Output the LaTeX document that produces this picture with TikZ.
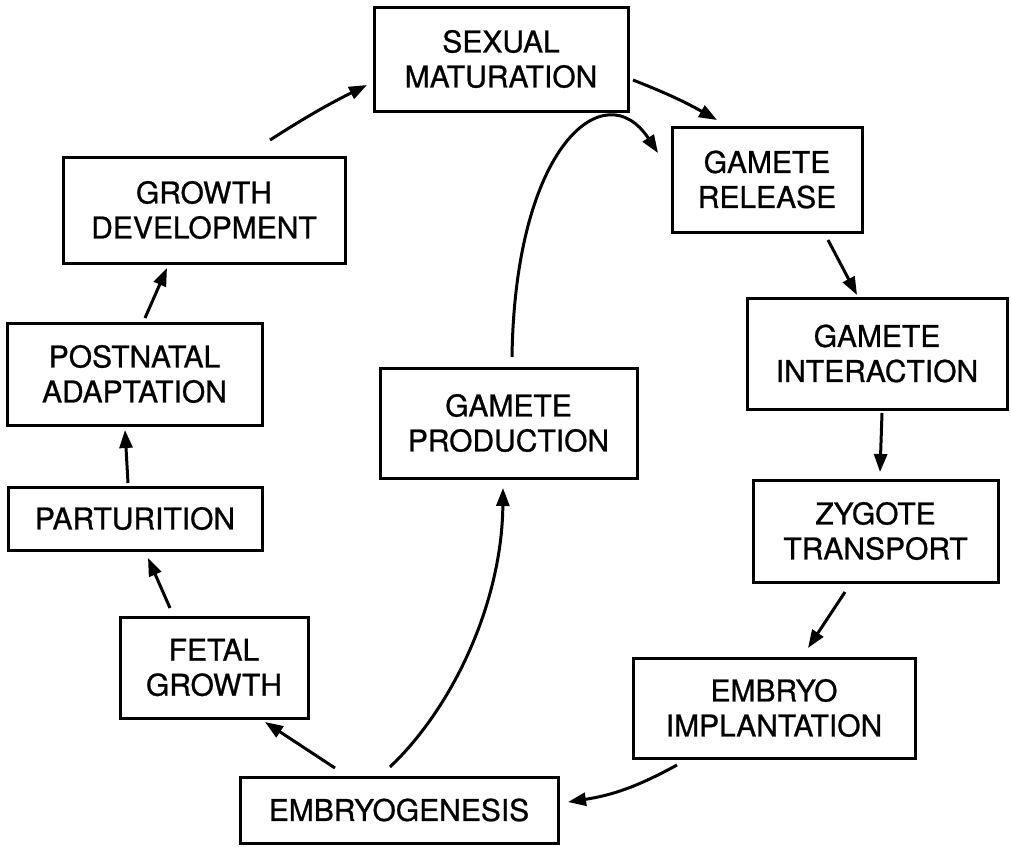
\documentclass[tikz,border=0pt]{standalone}
\usepackage{fontspec}
\setmainfont{TeX Gyre Heros}
\newfontfamily\boxfont{TeX Gyre Heros}[FakeBold=0.8]
\usetikzlibrary{arrows.meta,calc}
\tikzset{
  box/.style={draw, line width=3pt, align=center, inner sep=0pt,
    font=\boxfont\fontsize{30}{35}\selectfont},
  arr/.style={line width=3pt, -{Triangle[length=18pt,width=13pt]}},
}
\begin{document}
\begin{tikzpicture}[x=1pt,y=-1pt]
\useasboundingbox (0,0) rectangle (1011,846);
\fill[white] (0,0) rectangle (1011,846);
\node[box, minimum width=254pt, minimum height=104pt] (sm) at (501,59) {SEXUAL\\MATURATION};
\node[box, minimum width=190pt, minimum height=105pt] (gr) at (767,179.5) {GAMETE\\RELEASE};
\node[box, minimum width=260pt, minimum height=111pt] (gi) at (877,353.5) {GAMETE\\INTERACTION};
\node[box, minimum width=245pt, minimum height=102pt] (zt) at (875.5,531) {ZYGOTE\\TRANSPORT};
\node[box, minimum width=282pt, minimum height=100pt] (ei) at (774,708) {EMBRYO\\IMPLANTATION};
\node[box, minimum width=318pt, minimum height=66pt] (emb) at (399,810) {EMBRYOGENESIS};
\node[box, minimum width=188pt, minimum height=101pt] (fg) at (214,667.5) {FETAL\\GROWTH};
\node[box, minimum width=254pt, minimum height=63pt] (par) at (135,518.5) {PARTURITION};
\node[box, minimum width=255pt, minimum height=102pt] (pa) at (134.5,374) {POSTNATAL\\ADAPTATION};
\node[box, minimum width=282pt, minimum height=106pt] (gd) at (204,210) {GROWTH\\DEVELOPMENT};
\node[box, minimum width=257pt, minimum height=110pt] (gp) at (508.5,423) {GAMETE\\PRODUCTION};

\draw[arr] ($(gd)+(66,-70)$) to[bend left=3] ($(sm)+(-134,26)$);
\draw[arr] ($(sm)+(132,21)$) to[bend left=4] ($(gr)+(-50,-59.5)$);
\draw[arr] ($(gp)+(3.5,-66)$) .. controls (515,145) and (605,72) .. ($(gr)+(-109,-26.5)$);
\draw[arr] ($(gr)+(61,60.5)$) -- ($(gi)+(-20,-58.5)$);
\draw[arr] ($(gi)+(5,59.5)$) -- ($(zt)+(4.5,-59)$);
\draw[arr] ($(zt)+(-30.5,61)$) -- ($(ei)+(34,-60)$);
\draw[arr] ($(ei)+(-97,57)$) to[bend left=10] ($(emb)+(169,-8)$);
\draw[arr] ($(emb)+(-64,-42)$) -- ($(fg)+(51,54.5)$);
\draw[arr] ($(emb)+(-9,-43)$) .. controls (455,705) and (502,600) .. ($(gp)+(-5.5,65)$);
\draw[arr] ($(fg)+(-44,-59.5)$) -- ($(par)+(13,39.5)$);
\draw[arr] ($(par)+(-7,-35.5)$) -- ($(pa)+(-9.5,56)$);
\draw[arr] ($(pa)+(10.5,-56)$) -- ($(gd)+(-37,58)$);
\end{tikzpicture}
\end{document}
